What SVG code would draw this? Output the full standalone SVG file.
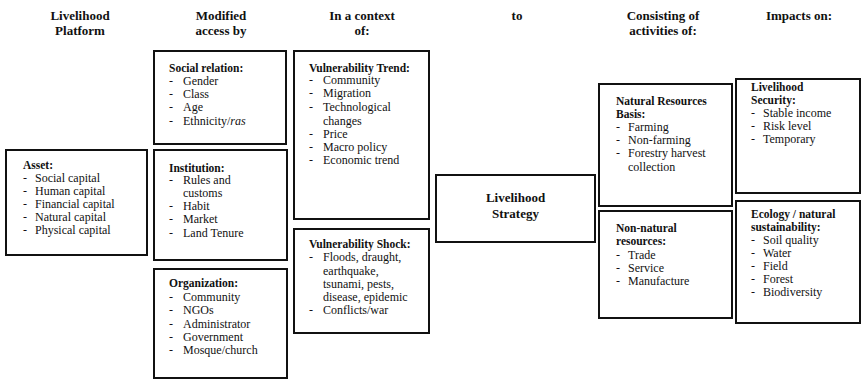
<svg xmlns="http://www.w3.org/2000/svg" width="862" height="381" viewBox="0 0 862 381">
<style>
.bg{fill:#fff}
.box{fill:#fff;stroke:#111;stroke-width:2}
text{font-family:"Liberation Serif","Times New Roman",serif;fill:#111}
.h{font-size:13px;font-weight:bold;text-anchor:middle}
.t{font-size:11.5px;font-weight:bold}
.i{font-size:12px}
.s{font-size:13px;font-weight:bold;text-anchor:middle}
</style>
<rect class="bg" x="0" y="0" width="862" height="381"/>
<g id="headers">
<text class="h" x="80" y="20">Livelihood</text>
<text class="h" x="80" y="35">Platform</text>
<text class="h" x="221" y="20">Modified</text>
<text class="h" x="221" y="35">access by</text>
<text class="h" x="362" y="20">In a context</text>
<text class="h" x="362" y="35">of:</text>
<text class="h" x="517" y="20">to</text>
<text class="h" x="663" y="20">Consisting of</text>
<text class="h" x="663" y="35">activities of:</text>
<text class="h" x="799" y="20">Impacts on:</text>
</g>
<g id="asset">
<rect class="box" x="6" y="150" width="141" height="105"/>
<text class="t" x="23" y="169">Asset:</text>
<text class="i" x="23" y="182">-</text><text class="i" x="35" y="182">Social capital</text>
<text class="i" x="23" y="195">-</text><text class="i" x="35" y="195">Human capital</text>
<text class="i" x="23" y="208">-</text><text class="i" x="35" y="208">Financial capital</text>
<text class="i" x="23" y="221">-</text><text class="i" x="35" y="221">Natural capital</text>
<text class="i" x="23" y="234">-</text><text class="i" x="35" y="234">Physical capital</text>
</g>
<g id="social-relation">
<rect class="box" x="154" y="51" width="132" height="93"/>
<text class="t" x="169" y="72">Social relation:</text>
<text class="i" x="169" y="85">-</text><text class="i" x="183" y="85">Gender</text>
<text class="i" x="169" y="98">-</text><text class="i" x="183" y="98">Class</text>
<text class="i" x="169" y="111">-</text><text class="i" x="183" y="111">Age</text>
<text class="i" x="169" y="125">-</text><text class="i" x="183" y="125">Ethnicity/<tspan font-style="italic">ras</tspan></text>
</g>
<g id="institution">
<rect class="box" x="154" y="150" width="133" height="110"/>
<text class="t" x="169" y="172">Institution:</text>
<text class="i" x="169" y="184">-</text><text class="i" x="183" y="184">Rules and</text>
<text class="i" x="183" y="197">customs</text>
<text class="i" x="169" y="210">-</text><text class="i" x="183" y="210">Habit</text>
<text class="i" x="169" y="223">-</text><text class="i" x="183" y="223">Market</text>
<text class="i" x="169" y="237">-</text><text class="i" x="183" y="237">Land Tenure</text>
</g>
<g id="organization">
<rect class="box" x="154" y="269" width="133" height="109"/>
<text class="t" x="169" y="287">Organization:</text>
<text class="i" x="169" y="301">-</text><text class="i" x="183" y="301">Community</text>
<text class="i" x="169" y="314">-</text><text class="i" x="183" y="314">NGOs</text>
<text class="i" x="169" y="328">-</text><text class="i" x="183" y="328">Administrator</text>
<text class="i" x="169" y="341">-</text><text class="i" x="183" y="341">Government</text>
<text class="i" x="169" y="354">-</text><text class="i" x="183" y="354">Mosque/church</text>
</g>
<g id="vulnerability-trend">
<rect class="box" x="294" y="51" width="135" height="168"/>
<text class="t" x="309" y="72">Vulnerability Trend:</text>
<text class="i" x="309" y="84">-</text><text class="i" x="323" y="84">Community</text>
<text class="i" x="309" y="97">-</text><text class="i" x="323" y="97">Migration</text>
<text class="i" x="309" y="111">-</text><text class="i" x="323" y="111">Technological</text>
<text class="i" x="323" y="125">changes</text>
<text class="i" x="309" y="138">-</text><text class="i" x="323" y="138">Price</text>
<text class="i" x="309" y="151">-</text><text class="i" x="323" y="151">Macro policy</text>
<text class="i" x="309" y="164">-</text><text class="i" x="323" y="164">Economic trend</text>
</g>
<g id="vulnerability-shock">
<rect class="box" x="294" y="229" width="135" height="104"/>
<text class="t" x="309" y="248">Vulnerability Shock:</text>
<text class="i" x="309" y="261">-</text><text class="i" x="323" y="261">Floods, draught,</text>
<text class="i" x="323" y="275">earthquake,</text>
<text class="i" x="323" y="288">tsunami, pests,</text>
<text class="i" x="323" y="301">disease, epidemic</text>
<text class="i" x="309" y="314">-</text><text class="i" x="323" y="314">Conflicts/war</text>
</g>
<g id="livelihood-strategy">
<rect class="box" x="436" y="175" width="159" height="67"/>
<text class="s" x="515.5" y="202">Livelihood</text>
<text class="s" x="515.5" y="218">Strategy</text>
</g>
<g id="natural-resources">
<rect class="box" x="599" y="84" width="133" height="122"/>
<text class="t" x="616" y="105">Natural Resources</text>
<text class="t" x="616" y="118">Basis:</text>
<text class="i" x="616" y="131">-</text><text class="i" x="628" y="131">Farming</text>
<text class="i" x="616" y="144">-</text><text class="i" x="628" y="144">Non-farming</text>
<text class="i" x="616" y="157">-</text><text class="i" x="628" y="157">Forestry harvest</text>
<text class="i" x="628" y="171">collection</text>
</g>
<g id="non-natural-resources">
<rect class="box" x="599" y="211" width="133" height="107"/>
<text class="t" x="616" y="232">Non-natural</text>
<text class="t" x="616" y="245">resources:</text>
<text class="i" x="616" y="259">-</text><text class="i" x="628" y="259">Trade</text>
<text class="i" x="616" y="272">-</text><text class="i" x="628" y="272">Service</text>
<text class="i" x="616" y="285">-</text><text class="i" x="628" y="285">Manufacture</text>
</g>
<g id="livelihood-security">
<rect class="box" x="736" y="79" width="124" height="114"/>
<text class="t" x="751" y="91">Livelihood</text>
<text class="t" x="751" y="104">Security:</text>
<text class="i" x="751" y="117">-</text><text class="i" x="763" y="117">Stable income</text>
<text class="i" x="751" y="130">-</text><text class="i" x="763" y="130">Risk level</text>
<text class="i" x="751" y="143">-</text><text class="i" x="763" y="143">Temporary</text>
</g>
<g id="ecology">
<rect class="box" x="736" y="201" width="124" height="122"/>
<text class="t" x="751" y="218">Ecology / natural</text>
<text class="t" x="751" y="231">sustainability:</text>
<text class="i" x="751" y="244">-</text><text class="i" x="763" y="244">Soil quality</text>
<text class="i" x="751" y="257">-</text><text class="i" x="763" y="257">Water</text>
<text class="i" x="751" y="270">-</text><text class="i" x="763" y="270">Field</text>
<text class="i" x="751" y="283">-</text><text class="i" x="763" y="283">Forest</text>
<text class="i" x="751" y="296">-</text><text class="i" x="763" y="296">Biodiversity</text>
</g>
<g id="connectors"></g>
</svg>
